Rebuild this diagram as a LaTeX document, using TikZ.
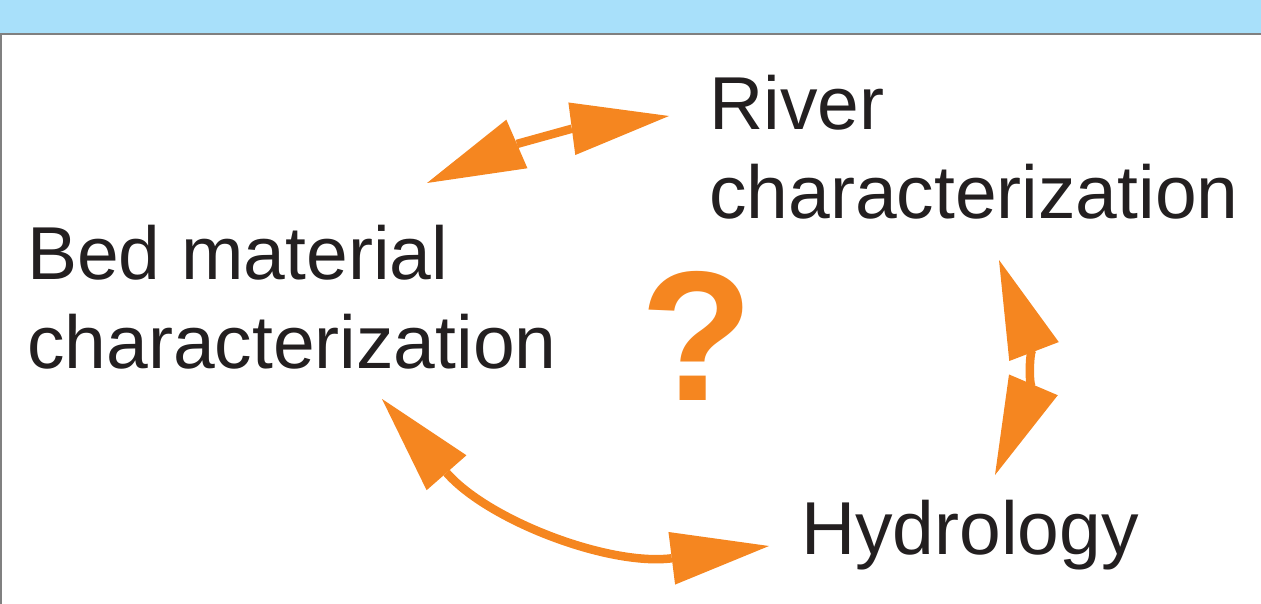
\documentclass[tikz,border=0pt]{standalone}
\usepackage{fontspec}
\setmainfont{Liberation Sans}
\usetikzlibrary{arrows.meta}
\definecolor{orng}{RGB}{245,134,32}
\definecolor{band}{RGB}{168,224,250}
\definecolor{txt}{RGB}{35,31,32}
\definecolor{rulegray}{RGB}{128,128,128}
\begin{document}
\begin{tikzpicture}[x=1pt,y=1pt,
  lbl/.style={font=\fontsize{75}{89}\selectfont, text=txt, inner sep=0pt, align=left, anchor=base west},
  bigtip/.tip={Triangle[length=98pt,width=53pt,line width=0pt]},
  dbl/.style={draw=orng, fill=none, line width=8.5pt, bigtip-bigtip}]
\useasboundingbox (0,0) rectangle (1261,-604);
\fill[band] (0,0) rectangle (1261,-34);
\draw[rulegray, line width=2pt] (0,-34) -- (1261,-34);
\draw[rulegray, line width=2pt] (1,-34) -- (1,-604);
\node[lbl] (river) at (709,-219) {River\\characterization};
\node[lbl] (bed) at (27,-368) {Bed material\\characterization};
\node[lbl] (hyd) at (801,-554) {Hydrology};
\node[font=\fontsize{185}{185}\selectfont\bfseries, text=orng, inner sep=0pt] (q) at (697,-336) {?};
\coordinate (a1s) at (427,-183);
\coordinate (a1e) at (669,-116);
\coordinate (a2s) at (999,-260);
\coordinate (a2e) at (995,-475);
\coordinate (a3s) at (382,-399);
\coordinate (a3e) at (769,-546);
\draw[dbl] (a1s) to[bend left=8] (a1e);
\draw[dbl] (a2s) to[bend left=22] (a2e);
\draw[dbl] (a3s) to[bend right=28] (a3e);
\end{tikzpicture}
\end{document}
